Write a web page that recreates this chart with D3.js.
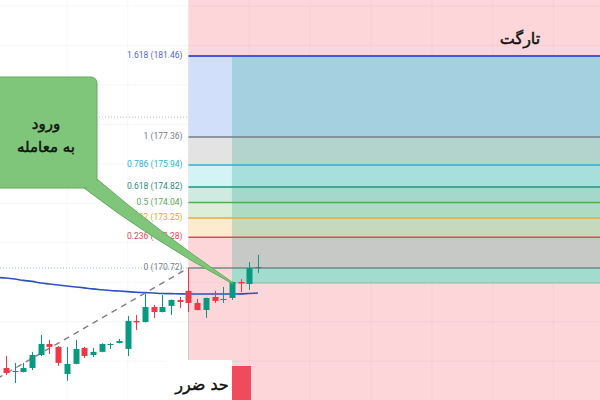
<!DOCTYPE html>
<html><head><meta charset="utf-8">
<script src="https://cdn.jsdelivr.net/npm/d3@7"></script>
<style>html,body{margin:0;padding:0;background:#fff;overflow:hidden;} svg{display:block;}</style>
</head><body>
<svg id="chart" width="600" height="400"></svg>
<script>
// ---- data ----
const opens  = [165.65,165.45,165.45,165.65,166.31,166.87,166.72,165.35,165.86,166.67,166.31,166.47,166.82,166.92,166.62,168.04,167.98,168.74,168.49,168.80,169.10,169.56,168.95,168.59,169.25,169.10,169.20,170.01,169.91,170.72];
const highs  = [166.26,165.91,165.91,166.47,167.33,167.07,166.77,166.72,167.07,166.72,166.67,166.90,166.92,167.12,168.29,168.34,169.40,168.85,169.35,169.12,169.25,170.72,169.15,169.22,169.56,169.76,170.03,170.16,171.02,171.38];
const lows   = [165.30,164.89,165.43,165.55,166.26,166.36,165.76,165.00,165.84,166.16,166.21,166.45,166.62,166.90,166.26,167.58,167.96,168.19,168.47,168.34,168.69,168.49,168.57,168.19,168.95,168.95,169.10,169.50,169.61,170.47];
const closes = [165.40,165.50,165.65,166.31,166.87,166.72,165.91,165.86,166.62,166.26,166.47,166.87,166.87,167.02,168.04,167.96,168.74,168.49,168.74,169.10,169.00,168.95,168.59,169.20,169.05,169.15,170.01,169.94,170.72,170.77];
// moving average, first value belongs to the bar before the first visible one (index -1)
const maValues = [170.24,170.21,170.16,170.09,170.04,169.96,169.91,169.86,169.81,169.76,169.71,169.66,169.62,169.58,169.55,169.52,169.49,169.47,169.45,169.43,169.42,169.41,169.40,169.40,169.40,169.40,169.40,169.40,169.41,169.43,169.45];
const fibLevels = [0, 0.236, 0.382, 0.5, 0.618, 0.786, 1, 1.618];
const fibPrices = [170.72, 172.28, 173.25, 174.04, 174.82, 175.94, 177.36, 181.46];
const trendIdx = [-1, 21];
const trendPrice = [165.12, 170.72];
const fibStartIdx = 21;
const posStartIdx = 26;
const posTarget = 181.46, posEntry = 170.72, posLow = 169.96;
const dottedPrices = [178.37, 170.72];
const gridPrices = [164, 166, 168, 170, 172, 174, 176, 178, 180, 182, 184];
const gridIdx = [7, 14, 21, 28, 35, 42, 49, 56, 63];
const titleTarget = "تارگت";
const titleEntry = ["ورود", "به معامله"];
const titleStop = "حد ضرر";

// ---- styles ----
const fibLineColors = ['#6f8a84','#e0485a','#eaa93a','#4caf50','#1e9582','#22b5d0','#787b86','#3d5bd4'];
const fibLabelColors = ['#7a7d88','#e0485a','#e9a52e','#5aa85c','#2a8f80','#2cb4d4','#7a7d88','#5468cf'];
const fibFillColors = ['#fdd6da','#fcebcd','#dcefd6','#cfeae0','#d3f3f5','#e3e3e3','#d1dffa'];
const UP = '#089981', DOWN = '#f23645';
const CALLOUT = '#7fc67a', CALLOUT_EDGE = '#62ad5e';

const W = 600, H = 400;
const svg = d3.select('#chart');
const x = d3.scaleLinear().domain([-0.69, 68.35]).range([0, W]);
const y = d3.scaleLinear().domain([164.03, 184.30]).range([H, 0]);

svg.append('rect').attr('x',0).attr('y',0).attr('width',W).attr('height',H).attr('fill','#fff');
// pink zone
svg.append('rect').attr('x', x(fibStartIdx)).attr('y', 0).attr('width', W - x(fibStartIdx)).attr('height', H).attr('fill', '#fdd6da');
// grid
const grid = svg.append('g');
grid.selectAll('line.h').data(gridPrices).join('line')
  .attr('x1',0).attr('x2',W).attr('y1',d=>y(d)).attr('y2',d=>y(d))
  .attr('stroke','rgba(100,110,140,0.06)').attr('stroke-width',1);
grid.selectAll('line.v').data(gridIdx).join('line')
  .attr('y1',0).attr('y2',H).attr('x1',d=>x(d)).attr('x2',d=>x(d))
  .attr('stroke','rgba(100,110,140,0.05)').attr('stroke-width',1);

// fib fills
const bands = d3.range(fibPrices.length - 1);
svg.append('g').selectAll('rect').data(bands).join('rect')
  .attr('x', x(fibStartIdx)).attr('width', W - x(fibStartIdx))
  .attr('y', i => y(fibPrices[i+1])).attr('height', i => y(fibPrices[i]) - y(fibPrices[i+1]))
  .attr('fill', i => fibFillColors[i]);

// position overlay (target zone)
svg.append('rect').attr('x', x(posStartIdx)).attr('width', W - x(posStartIdx))
  .attr('y', y(posTarget)).attr('height', y(posEntry) - y(posTarget))
  .attr('fill', 'rgba(8,153,129,0.22)');
svg.append('rect').attr('x', x(posStartIdx)).attr('width', W - x(posStartIdx))
  .attr('y', y(posEntry)).attr('height', y(posLow) - y(posEntry))
  .attr('fill', '#a2dccf');
svg.append('line').attr('x1', x(posStartIdx)).attr('x2', W)
  .attr('y1', y(posLow)).attr('y2', y(posLow)).attr('stroke', '#7bbfae').attr('stroke-width', 1);

// fib lines
svg.append('g').selectAll('line').data(fibPrices).join('line')
  .attr('x1', x(fibStartIdx)).attr('x2', W)
  .attr('y1', d => y(d)).attr('y2', d => y(d))
  .attr('stroke', (d,i) => fibLineColors[i])
  .attr('stroke-width', (d,i) => i === 7 ? 2 : 1.5);

// dotted lines to the left
svg.append('g').selectAll('line').data(dottedPrices).join('line')
  .attr('x1', 0).attr('x2', x(fibStartIdx))
  .attr('y1', d => y(d)).attr('y2', d => y(d))
  .attr('stroke', (d,i) => i === 0 ? '#b9bcc4' : '#8fd0c6')
  .attr('stroke-width', 1).attr('stroke-dasharray', '1,2');

// vertical separator under 0 level
svg.append('line').attr('x1', x(fibStartIdx)).attr('x2', x(fibStartIdx))
  .attr('y1', y(fibPrices[0])).attr('y2', 360)
  .attr('stroke', '#c9c9cf').attr('stroke-width', 1);

// MA line
const maLine = d3.line().x((d,i) => x(i - 1)).y(d => y(d)).curve(d3.curveMonotoneX);
svg.append('path').datum(maValues).attr('d', maLine)
  .attr('fill','none').attr('stroke','#2f50bf').attr('stroke-width',1.6);

// dashed trend
svg.append('line').attr('x1', x(trendIdx[0])).attr('y1', y(trendPrice[0]))
  .attr('x2', x(trendIdx[1])).attr('y2', y(trendPrice[1]))
  .attr('stroke', '#7d808a').attr('stroke-width', 1.4).attr('stroke-dasharray', '6,5');

// candles
const idx = d3.range(opens.length);
const cg = svg.append('g');
cg.selectAll('line').data(idx).join('line')
  .attr('x1', i => Math.round(x(i)) + 0.5).attr('x2', i => Math.round(x(i)) + 0.5)
  .attr('y1', i => y(highs[i])).attr('y2', i => y(lows[i]))
  .attr('stroke', i => closes[i] >= opens[i] ? UP : DOWN).attr('stroke-width', 1);
const bw = 6;
cg.selectAll('rect').data(idx).join('rect')
  .attr('x', i => Math.round(x(i)) + 0.5 - bw/2).attr('width', bw)
  .attr('y', i => y(Math.max(opens[i], closes[i])))
  .attr('height', i => Math.max(1, Math.abs(y(opens[i]) - y(closes[i]))))
  .attr('fill', i => closes[i] >= opens[i] ? UP : DOWN);

// fib labels
svg.append('g').selectAll('text').data(fibLevels).join('text')
  .attr('x', x(fibStartIdx) - 6).attr('y', (d,i) => y(fibPrices[i]))
  .attr('text-anchor', 'end').attr('dominant-baseline', 'middle')
  .attr('font-family', 'Roboto, "Noto Sans", sans-serif').attr('font-size', 8.5)
  .attr('fill', (d,i) => fibLabelColors[i])
  .text((d,i) => `${d} (${fibPrices[i].toFixed(2)})`);

// callout
const tipX = x(posStartIdx), tipY = y(closes[posStartIdx]);
const pointer = `M97,179 Q155,229 ${tipX},${tipY} L${tipX + 1},${tipY + 2} Q150,239 84,188 Z`;
const callout = svg.append('g');
callout.append('path').attr('d', pointer)
  .attr('fill', CALLOUT).attr('stroke', CALLOUT_EDGE).attr('stroke-width', 1).attr('stroke-linejoin', 'round');
callout.append('rect').attr('x', -10).attr('y', 77).attr('width', 107).attr('height', 111)
  .attr('rx', 6).attr('fill', CALLOUT).attr('stroke', CALLOUT_EDGE).attr('stroke-width', 1);
callout.append('path').attr('d', 'M86,186.5 L96,179.5 L100,185 L90,190 Z').attr('fill', CALLOUT);
callout.selectAll('text').data(titleEntry).join('text')
  .attr('x', 46).attr('y', (d,i) => 124 + i * 23)
  .attr('text-anchor', 'middle').attr('dominant-baseline', 'middle')
  .attr('font-family', '"DejaVu Sans", sans-serif').attr('font-size', 15)
  .attr('fill', '#111').attr('stroke', '#111').attr('stroke-width', 0.45)
  .text(d => d);

// target title
svg.append('text').attr('x', 520).attr('y', 39)
  .attr('text-anchor', 'middle').attr('dominant-baseline', 'middle')
  .attr('font-family', '"DejaVu Sans", sans-serif').attr('font-size', 16)
  .attr('fill', '#111').attr('stroke', '#111').attr('stroke-width', 0.45).text(titleTarget);

// stop loss label
svg.append('rect').attr('x', 166).attr('y', 360).attr('width', x(posStartIdx) - 166).attr('height', 40).attr('fill', '#fff');
svg.append('rect').attr('x', x(posStartIdx)).attr('y', 366).attr('width', 19).attr('height', 34).attr('fill', '#f04b5b');
svg.append('text').attr('x', 202).attr('y', 385)
  .attr('text-anchor', 'middle').attr('dominant-baseline', 'middle')
  .attr('font-family', '"DejaVu Sans", sans-serif').attr('font-size', 16)
  .attr('fill', '#111').attr('stroke', '#111').attr('stroke-width', 0.45).text(titleStop);
</script>
</body></html>
